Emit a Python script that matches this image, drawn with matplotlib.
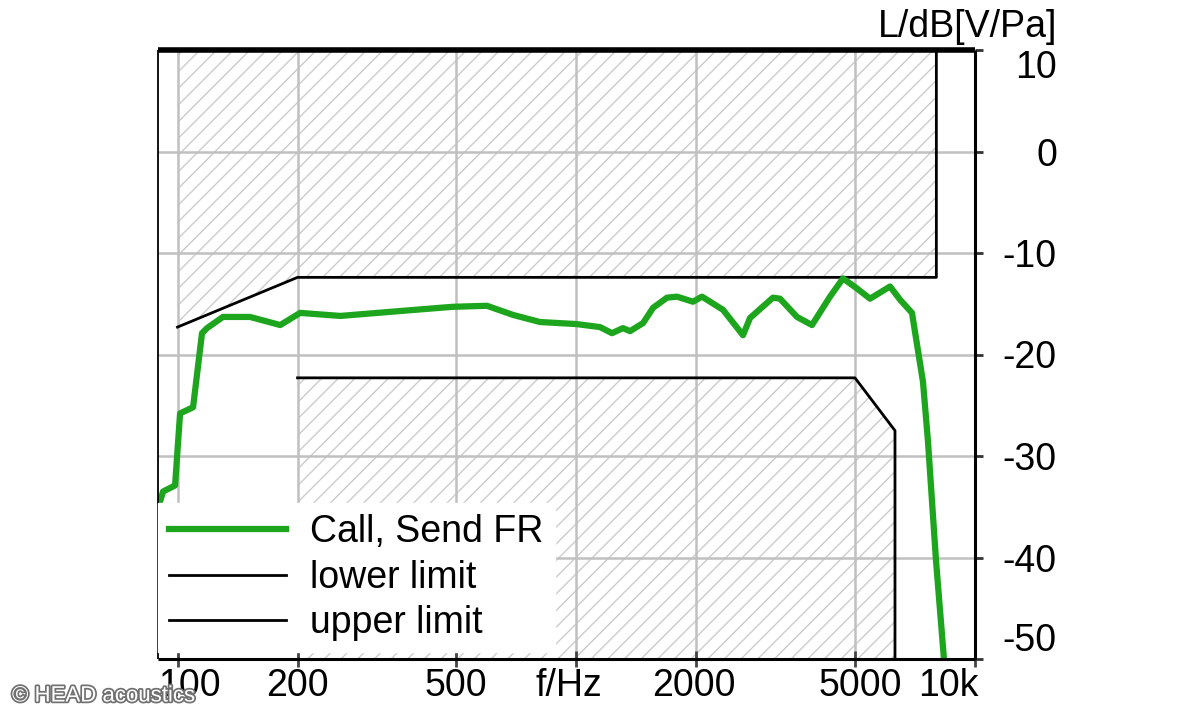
import matplotlib
matplotlib.use("Agg")
import matplotlib.pyplot as plt
import matplotlib.patheffects as pe
from matplotlib.lines import Line2D

# ---- data ----
freq_fr = [89.5, 90.4, 92.0, 98.6, 101.5, 109.4, 115.2, 118.6, 130, 152, 166, 181,
           203, 256, 341, 455, 491, 597, 694, 811, 1000, 1147, 1229, 1310, 1364,
           1471, 1558, 1689, 1789, 1962, 2067, 2334, 2619, 2728, 3114, 3243, 3578,
           3901, 4329, 4667, 5060, 5454, 5779, 6122, 6486, 6950, 7194, 7406, 7623,
           7984, 8362]
level_fr = [-39.3, -34.5, -33.5, -32.9, -25.8, -25.2, -17.9, -17.4, -16.3, -16.3, -16.7, -17.1,
            -15.9, -16.2, -15.8, -15.4, -15.3, -15.2, -16.1, -16.8, -17.0, -17.3, -17.9, -17.4, -17.7,
            -16.9, -15.4, -14.4, -14.3, -14.8, -14.3, -15.6, -18.1, -16.4, -14.4, -14.5, -16.3,
            -17.1, -14.3, -12.5, -13.5, -14.5, -13.9, -13.3, -14.6, -15.9, -19.6, -22.7, -28.6,
            -40.3, -50.1]

upper_f = [100, 200, 8000, 8000]
upper_L = [-17.3, -12.4, -12.4, 10]
lower_f = [200, 5000, 6300, 6300]
lower_L = [-22.3, -22.3, -27.5, -50]

x_ticks = [100, 200, 500, 1000, 2000, 5000, 10000]
x_labels = ["100", "200", "500", "f/Hz", "2000", "5000", "10k"]
y_ticks = [10, 0, -10, -20, -30, -40, -50]
y_labels = ["10", "0", "-10", "-20", "-30", "-40", "-50"]

legend_labels = ["Call, Send FR", "lower limit", "upper limit"]

# ---- style ----
plt.rcParams["font.family"] = ["Liberation Sans", "DejaVu Sans"]
plt.rcParams["hatch.linewidth"] = 1.0
plt.rcParams["hatch.color"] = "#cccccc"
GREEN = "#1ea51e"
HATCH = "#cccccc"
FS = 27

fig = plt.figure(figsize=(12, 7.2), dpi=100)
ax = fig.add_axes([158 / 1200, 61 / 720, 817 / 1200, 609 / 720])
ax.set_xscale("log")
ax.set_xlim(89.35, 10000)
ax.set_ylim(-50, 10)

# hatched forbidden regions
ax.fill_between(upper_f[:3], upper_L[:3], 10, facecolor="none", edgecolor=HATCH,
                hatch="//", linewidth=0, zorder=0.5)
ax.fill_between(lower_f, lower_L, -50, facecolor="none", edgecolor=HATCH,
                hatch="//", linewidth=0, zorder=0.5)

# grid
ax.set_xticks(x_ticks)
ax.set_xticklabels([""] * len(x_ticks))
ax.xaxis.set_minor_locator(matplotlib.ticker.NullLocator())
ax.set_yticks(y_ticks)
ax.grid(True, color="#c0c0c0", linewidth=1.8, zorder=1)

# limit lines and measurement
ax.plot(upper_f, upper_L, color="black", linewidth=2, zorder=3)
ax.plot(lower_f, lower_L, color="black", linewidth=2, zorder=3)
ax.plot(freq_fr, level_fr, color=GREEN, linewidth=4.5, zorder=4, solid_joinstyle="round")

# spines
for s, w in [("top", 4), ("right", 2.2), ("bottom", 2.2), ("left", 1.3)]:
    ax.spines[s].set_linewidth(w)
    ax.spines[s].set_color("black")
    ax.spines[s].set_zorder(5)
    ax.spines[s].set_capstyle("butt")

# y ticks on the right
ax.yaxis.tick_right()
ax.tick_params(axis="y", direction="out", length=6, width=2, color="#333333",
               labelsize=FS, pad=53)
ax.set_yticklabels(y_labels)
for lab in ax.get_yticklabels():
    lab.set_horizontalalignment("right")
ylabs = ax.get_yticklabels()
ylabs[0].set_verticalalignment("top")
ylabs[-1].set_verticalalignment("bottom")

# x ticks
ax.tick_params(axis="x", direction="inout", length=12, width=2, color="#444444")
x_offsets = [12, 0, 0, -7, -2, 5, 3]
x_ha = ["center", "center", "center", "center", "center", "center", "right"]
for f, lab, dx, ha in zip(x_ticks, x_labels, x_offsets, x_ha):
    ax.annotate(lab, xy=(f, 0), xycoords=ax.get_xaxis_transform(),
                xytext=(dx, -27), textcoords="offset pixels",
                ha=ha, va="center", fontsize=FS, annotation_clip=False)

# axis title
fig.text(1057 / 1200, 1 - 27 / 720, "L/dB[V/Pa]", ha="right", va="center", fontsize=FS)

# legend
handles = [Line2D([], [], color=GREEN, linewidth=4.5),
           Line2D([], [], color="black", linewidth=2),
           Line2D([], [], color="black", linewidth=2)]
leg = ax.legend(handles, legend_labels, loc="upper left",
                bbox_to_anchor=(158 / 1200, 1 - 503 / 720), bbox_transform=fig.transFigure,
                borderaxespad=0, borderpad=0.3, handlelength=3.1, handletextpad=0.65,
                labelspacing=0.25, fontsize=FS, frameon=True, fancybox=False,
                facecolor="white", edgecolor="white", framealpha=1)
leg.set_zorder(6)

# watermark
fig.text(12 / 1200, 1 - 696 / 720, "© HEAD acoustics", color="white", fontsize=16,
         ha="left", va="center",
         path_effects=[pe.withStroke(linewidth=2.5, foreground="#707070")])

fig.savefig("out.png", dpi=100)
